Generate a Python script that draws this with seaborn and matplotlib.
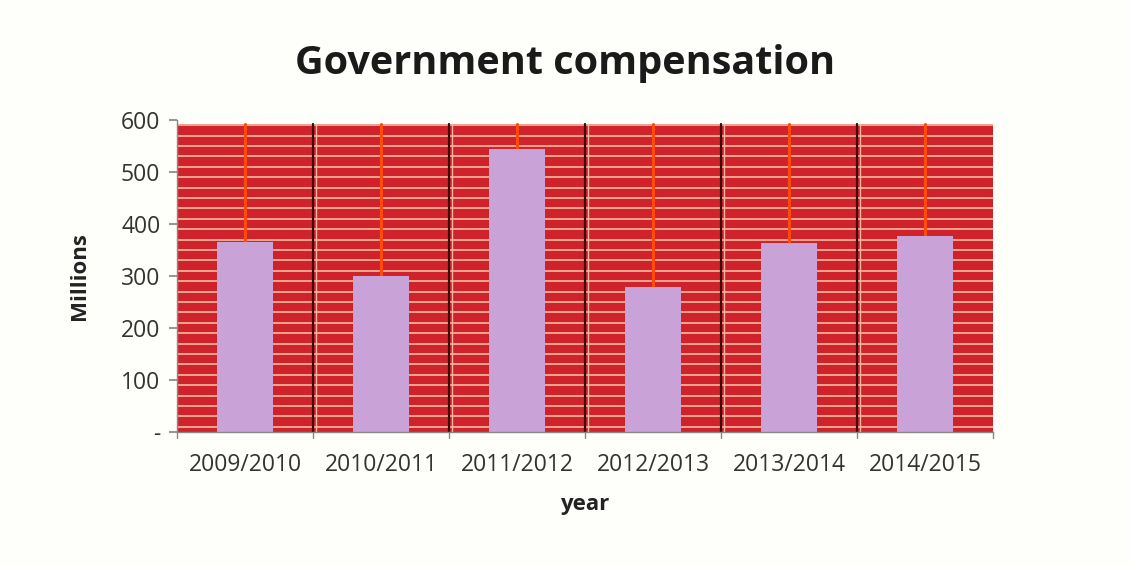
import numpy as np
import pandas as pd
import matplotlib
matplotlib.use("Agg")
import matplotlib.pyplot as plt
import seaborn as sns

years = ["2009/2010", "2010/2011", "2011/2012", "2012/2013", "2013/2014", "2014/2015"]
values = [365, 300, 544, 279, 363, 377]
yticks = [0, 100, 200, 300, 400, 500, 600]
ytick_labels = ["-", "100", "200", "300", "400", "500", "600"]

df = pd.DataFrame({"year": years, "value": values})

sns.set_theme(style="white")
plt.rcParams["font.family"] = ["Open Sans", "DejaVu Sans"]

fig = plt.figure(figsize=(11.3, 5.66), dpi=100, facecolor="#fefefb")
ax = fig.add_axes([0.1566, 0.2367, 0.7222, 0.5513])
ax.set_facecolor("#fefefb")

n = len(years)
# red textured background
ax.axhspan(0, 593, xmin=0, xmax=1, color="#d0222a", zorder=0, lw=0)
for yy in np.arange(10, 593, 20):
    ax.axhline(yy, color="#f2bca0", lw=1.2, zorder=0.5)
for b in np.arange(0.5, n - 0.5, 1):
    ax.plot([b, b], [0, 593], color="#3d0808", lw=1.6, zorder=0.6)
    ax.plot([b + 0.02, b + 0.02], [0, 593], color="#f0b8a0", lw=1.0, zorder=0.6)

sns.barplot(data=df, x="year", y="value", color="#c9a3d8", width=0.41,
            saturation=1, ax=ax, zorder=2, linewidth=0, edgecolor="none")
for i, v in enumerate(values):
    ax.plot([i, i], [v, 593], color="#ff4a10", lw=2.2, zorder=1)

ax.set_xlim(-0.5, n - 0.5)
ax.set_ylim(0, 600)
ax.set_yticks(yticks)
ax.set_yticklabels(ytick_labels, fontsize=16.5, color="#333333")
ax.set_xticks(range(n))
ax.set_xticklabels(years, fontsize=16.5, color="#333333")
ax.tick_params(axis="x", length=0, pad=15)
ax.tick_params(axis="y", length=6, color="#888888", left=True, pad=6)
for b in np.arange(-0.5, n + 0.5, 1):
    ax.plot([b, b], [0, -12], color="#888888", lw=1, clip_on=False, zorder=3)

for s in ["top", "right"]:
    ax.spines[s].set_visible(False)
for s in ["left", "bottom"]:
    ax.spines[s].set_color("#888888")
    ax.spines[s].set_linewidth(1)

ax.set_xlabel("year", fontsize=16, fontweight="bold", color="#222222", labelpad=12)
ax.set_ylabel("Millions", fontsize=16, fontweight="bold", color="#222222", labelpad=22)
fig.text(0.5, 0.888, "Government compensation", ha="center", va="center",
         fontsize=28.5, fontweight="bold", color="#1a1a1a")

fig.savefig("out.png", dpi=100, facecolor=fig.get_facecolor())
